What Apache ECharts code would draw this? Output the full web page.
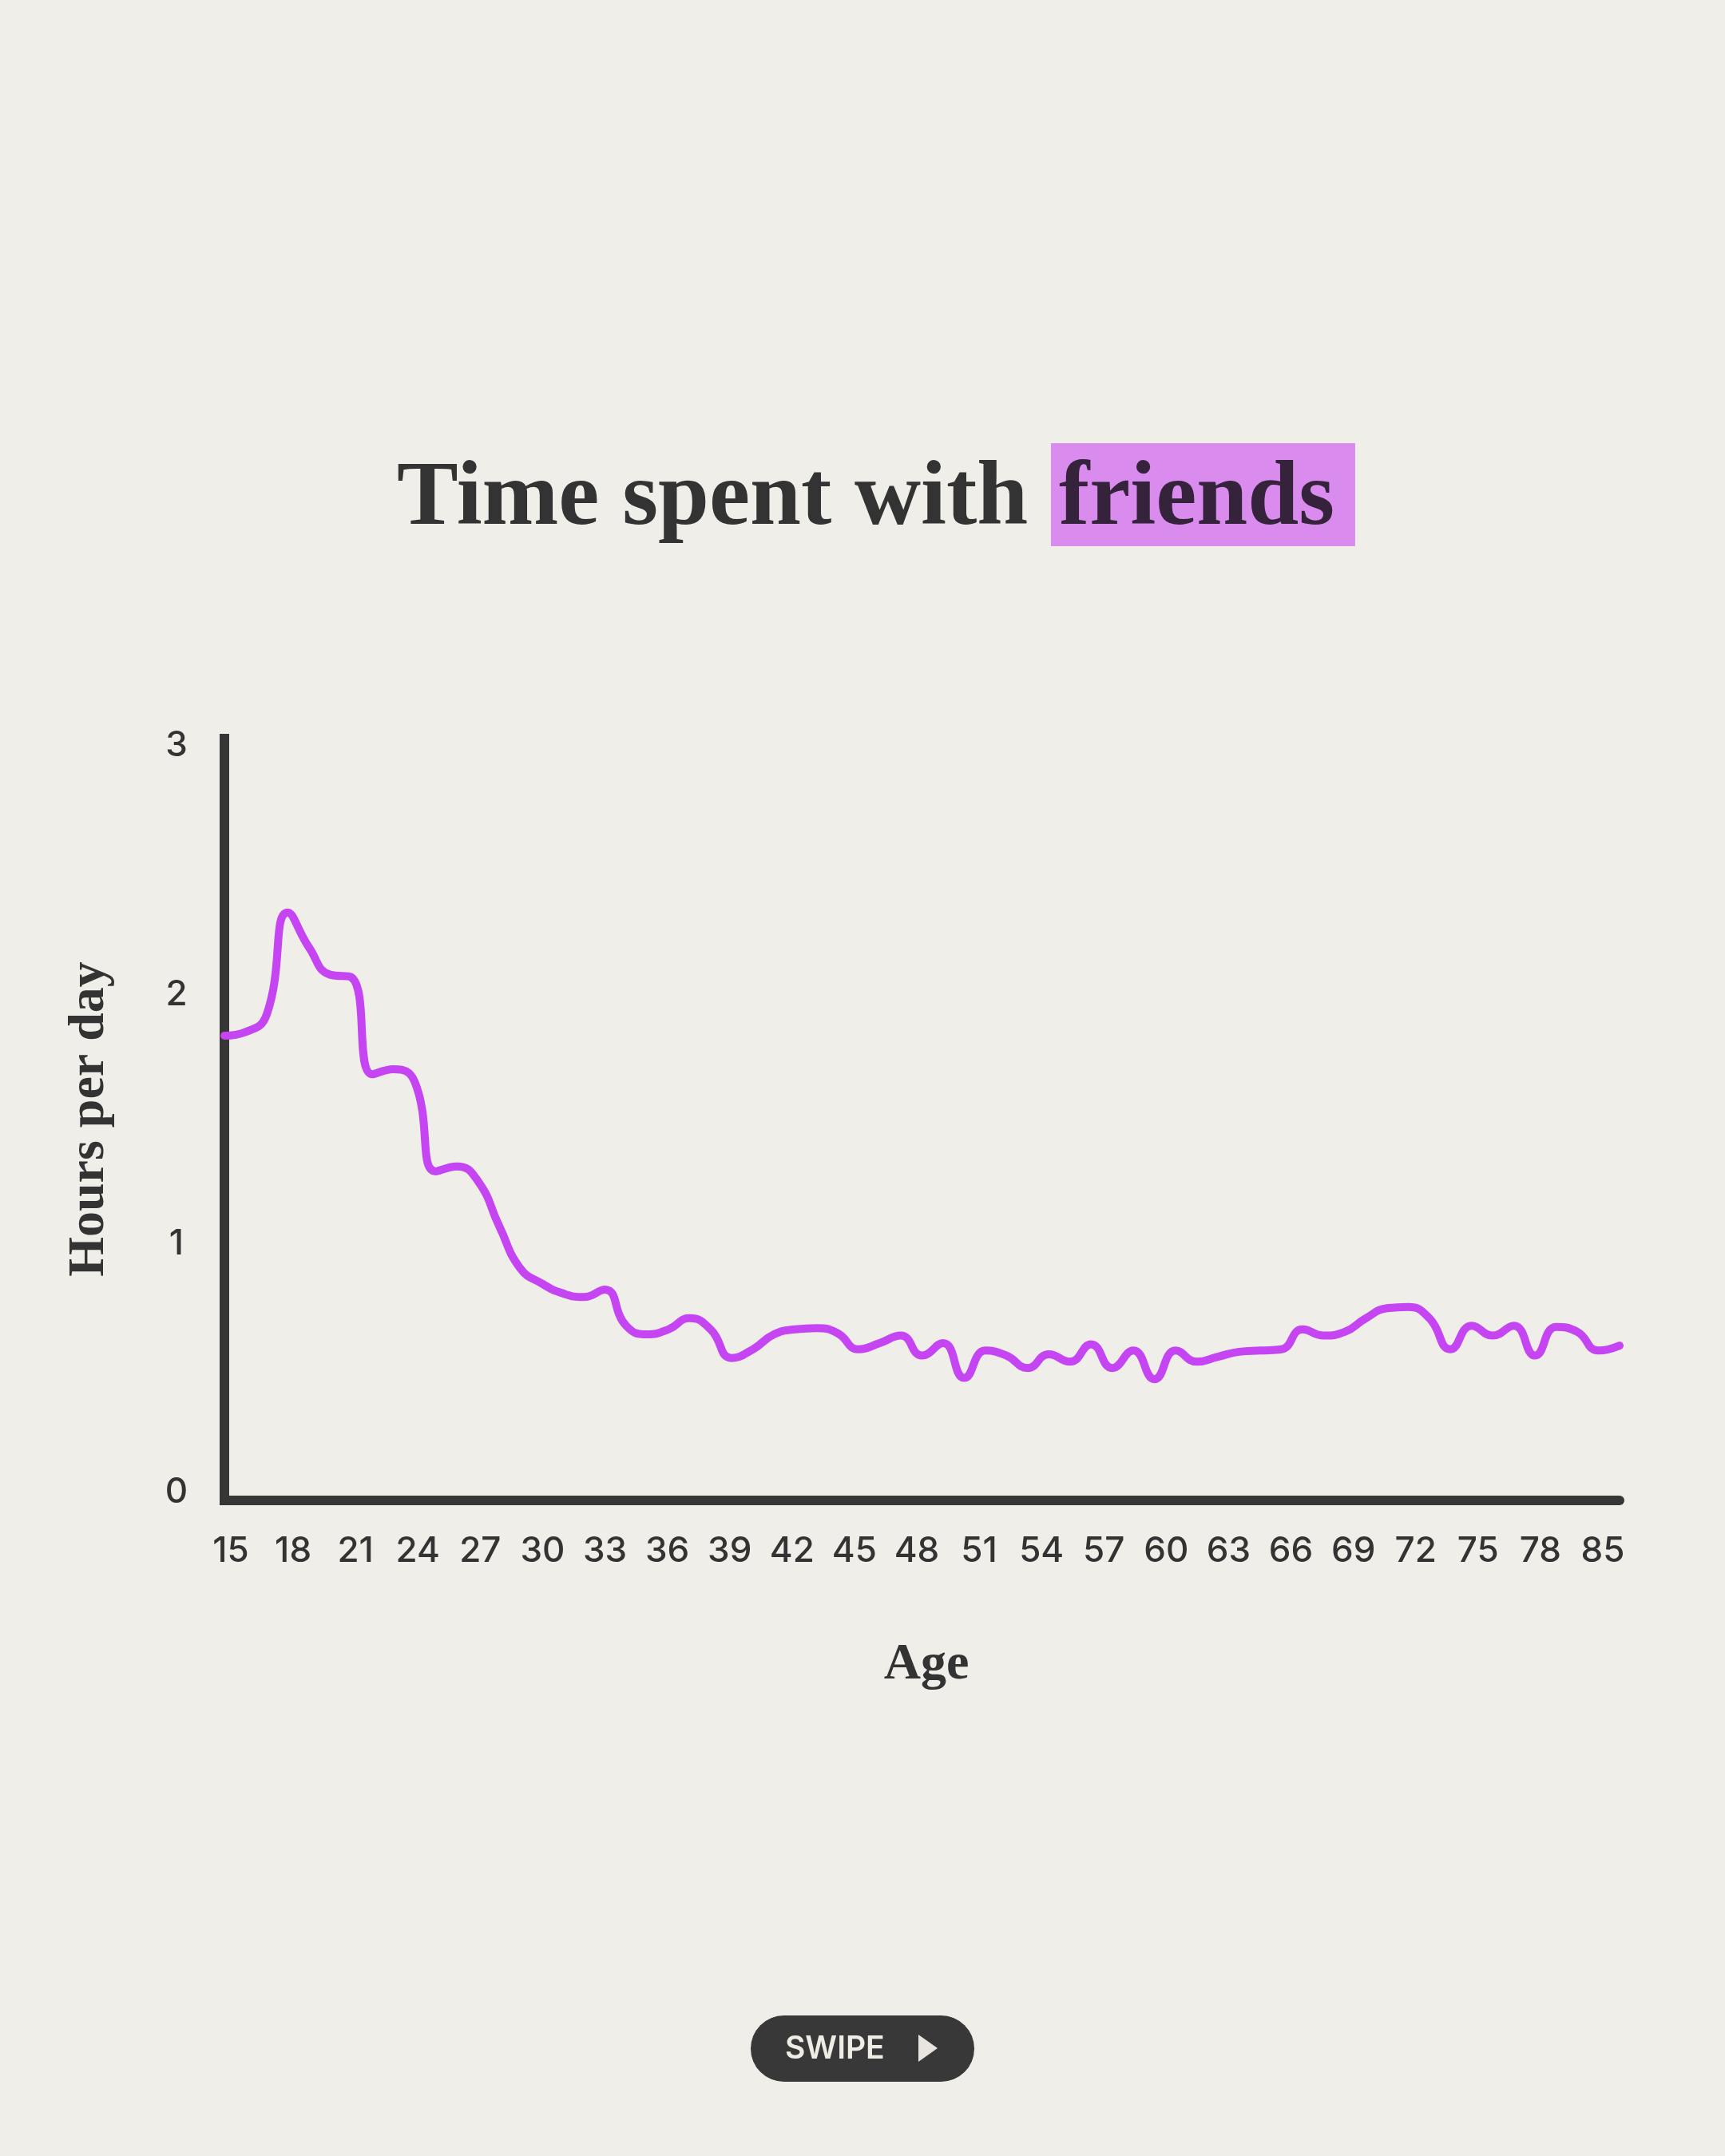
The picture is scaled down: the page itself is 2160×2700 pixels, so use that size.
<!DOCTYPE html>
<html>
<head>
<meta charset="utf-8">
<script src="https://cdn.jsdelivr.net/npm/echarts@6/dist/echarts.min.js"></script>
<style>
  html, body { margin: 0; padding: 0; background: #f0eee8; }
  #chart { width: 2160px; height: 2700px; }
</style>
</head>
<body>
<div id="chart"></div>
<script>
// ---- Data ----
// ATUS-style ages: 15..80 yearly, then top-coded 85
const ages = [15,16,17,18,19,20,21,22,23,24,25,26,27,28,29,30,31,32,33,34,35,36,37,38,39,40,
  41,42,43,44,45,46,47,48,49,50,51,52,53,54,55,56,57,58,59,60,61,62,63,64,65,66,67,68,69,70,
  71,72,73,74,75,76,77,78,79,80,85];

const hoursPerDay = [1.835,1.85,1.92,2.33,2.19,2.08,2.07,1.68,1.70,1.65,1.29,1.31,1.25,1.07,0.90,
  0.84,0.80,0.785,0.815,0.67,0.635,0.655,0.70,0.655,0.54,0.575,0.635,0.655,0.66,0.64,0.575,0.60,
  0.63,0.55,0.60,0.46,0.57,0.55,0.50,0.555,0.525,0.595,0.50,0.57,0.455,0.57,0.525,0.545,0.565,
  0.57,0.575,0.655,0.63,0.645,0.70,0.74,0.745,0.70,0.575,0.67,0.63,0.67,0.55,0.665,0.645,0.57,0.59];

const xTickLabels = ['15','18','21','24','27','30','33','36','39','42','45','48','51','54','57',
  '60','63','66','69','72','75','78','85'];

const titlePlain = 'Time spent with ';
const titleHighlight = 'friends';
const xAxisName = 'Age';
const yAxisName = 'Hours per day';
const buttonText = 'SWIPE';

// ---- Styles ----
const INK = '#333333';
const AXIS = '#363636';
const LINE = '#c545f2';
const SERIF = '"Liberation Serif", "DejaVu Serif", serif';
const SANS = 'Inter, "Noto Sans", sans-serif';

const chart = echarts.init(document.getElementById('chart'), null, { renderer: 'canvas', width: 2160, height: 2700 });

const option = {
  backgroundColor: '#f0eee8',
  animation: false,
  title: {
    left: 497,
    top: 562,
    padding: 0,
    text: '{a|' + titlePlain + '}{b|' + titleHighlight + '}',
    textStyle: {
      rich: {
        a: { fontFamily: SERIF, fontWeight: 'bold', fontSize: 115, lineHeight: 115, color: INK,
             padding: [14, 0, 0, 0] },
        b: { fontFamily: SERIF, fontWeight: 'bold', fontSize: 115, lineHeight: 115, color: '#35233b',
             backgroundColor: '#da8cee', padding: [14, 26, 0, 10] }
      }
    }
  },
  grid: [
    { left: 281, top: 925, width: 1747, height: 954 },   // data + axis frame
    { left: 281, top: 934, width: 1747, height: 935 },   // y tick labels (0..3)
    { left: 289, top: 925, width: 1718, height: 954 }    // x tick labels
  ],
  xAxis: [
    {
      gridIndex: 0, type: 'category', data: ages, boundaryGap: false,
      axisLine: { show: true, onZero: false, lineStyle: { color: AXIS, width: 12 } },
      axisTick: { show: false }, axisLabel: { show: false }, splitLine: { show: false }
    },
    { gridIndex: 1, type: 'value', show: false },
    {
      gridIndex: 2, type: 'category', data: xTickLabels, boundaryGap: false,
      axisLine: { show: false }, axisTick: { show: false }, splitLine: { show: false },
      axisLabel: { show: true, interval: 0, margin: 42, fontFamily: SANS, fontSize: 44, fontWeight: 500, color: INK },
      name: xAxisName, nameLocation: 'middle', nameGap: 174,
      nameTextStyle: { fontFamily: SERIF, fontWeight: 'bold', fontSize: 64, color: INK, padding: [0, 0, 0, 24] }
    }
  ],
  yAxis: [
    {
      gridIndex: 0, type: 'value', min: -0.0321, max: 3.0285,
      axisLine: { show: true, lineStyle: { color: AXIS, width: 12, cap: 'square' } },
      axisTick: { show: false }, axisLabel: { show: false }, splitLine: { show: false }
    },
    {
      gridIndex: 1, type: 'value', min: 0, max: 3, interval: 1,
      axisLine: { show: false }, axisTick: { show: false }, splitLine: { show: false },
      axisLabel: { margin: 60, align: 'center', fontFamily: SANS, fontSize: 44, fontWeight: 500, color: INK },
      name: yAxisName, nameLocation: 'middle', nameRotate: 90, nameGap: 137,
      nameTextStyle: { fontFamily: SERIF, fontWeight: 'bold', fontSize: 64, color: INK }
    },
    { gridIndex: 2, type: 'value', show: false }
  ],
  series: [{
    type: 'line',
    xAxisIndex: 0, yAxisIndex: 0,
    data: hoursPerDay,
    smooth: 0.5,
    symbol: 'none',
    lineStyle: { color: LINE, width: 10, cap: 'round', join: 'round' }
  }],
  graphic: [{
    type: 'group', left: 940, top: 2524,
    children: [
      { type: 'rect', shape: { x: 0, y: 0, width: 280, height: 83, r: 41.5 }, style: { fill: '#383838' } },
      { type: 'text', style: { x: 43, y: 42, text: buttonText, font: '600 39px Inter', fill: '#efece6',
          textAlign: 'left', textVerticalAlign: 'middle' } },
      { type: 'polygon', shape: { points: [[210, 24], [210, 58], [234, 41]] }, style: { fill: '#e8e5df' } }
    ]
  }]
};

chart.setOption(option);
</script>
</body>
</html>
